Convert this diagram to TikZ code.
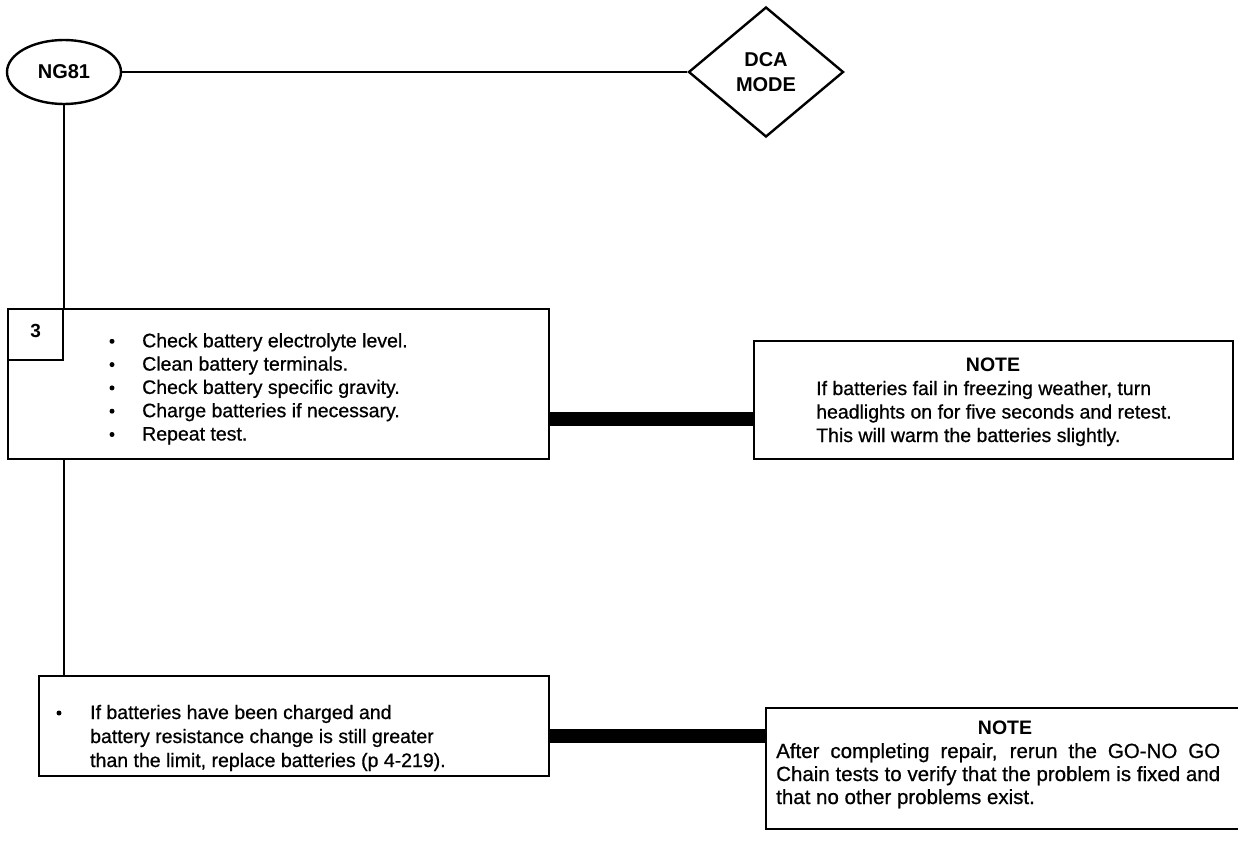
\documentclass[tikz,border=0pt]{standalone}
\usepackage{fontspec}
\setmainfont{Liberation Sans}
\newfontfamily\bodyfont{Liberation Sans}[FakeBold=0.7]
\usetikzlibrary{shapes.geometric}
\begin{document}
\begin{tikzpicture}[x=1pt,y=-1pt,
  thinline/.style={line width=2.4pt},
  bar/.style={line width=14pt},
  boxnode/.style={draw,line width=2.4pt,rectangle,inner sep=0pt,anchor=north west},
  body/.style={anchor=base west,inner sep=0pt,font=\bodyfont\fontsize{19.5}{23.5}\selectfont},
  bigbody/.style={anchor=base west,inner sep=0pt,font=\bodyfont\fontsize{20.5}{23.5}\selectfont},
  dot/.style={circle,fill,inner sep=0pt,minimum size=5pt},
  head/.style={anchor=base,inner sep=0pt,font=\fontsize{19.5}{23.5}\selectfont\bfseries}]
\useasboundingbox (0,0) rectangle (1238,859);
\fill[white] (0,0) rectangle (1238,859);

% top row
\node[draw,ellipse,line width=2.4pt,minimum width=114pt,minimum height=64pt,inner sep=0pt,
  font=\fontsize{20}{24}\selectfont\bfseries] (ng) at (64,72) {NG81};
\node[draw,diamond,line width=2.4pt,minimum width=155pt,minimum height=130pt,inner sep=0pt,
  align=center,font=\fontsize{20}{25}\selectfont\bfseries] (dca) at (766,72) {DCA\\MODE};
\draw[thinline] (ng.east) -- (dca.west);

% box 1
\node[boxnode,minimum width=541pt,minimum height=150pt] (box1) at (7,308) {};
\node[boxnode,minimum width=55pt,minimum height=51pt] (num) at (7,308) {};
\node[font=\fontsize{19}{22}\selectfont\bfseries,inner sep=0pt] (three) at (num.center) [yshift=4pt] {3};
\draw[thinline] (ng.south) -- (ng.south |- box1.north);

\foreach \i/\t in {1/Check battery electrolyte level.,2/Clean battery terminals.,3/Check battery specific gravity.,4/Charge batteries if necessary.,5/Repeat test.}{
  \node[dot] (b1\i) at (112,318+23.3*\i) {};
  \node[body] (t1\i) at (142,324+23.3*\i) {\t};
}

% note 1
\node[boxnode,minimum width=479pt,minimum height=118pt] (note1) at (753,340) {};
\node[head] (n1h) at (993,371) {NOTE};
\node[body] (n1a) at (816,395) {If batteries fail in freezing weather, turn};
\node[body] (n1b) at (816,418.5) {headlights on for five seconds and retest.};
\node[body] (n1c) at (816,442) {This will warm the batteries slightly.};

\coordinate (c1) at (548,419);
\draw[bar] (c1) -- (c1 -| note1.west);

% box 2
\node[boxnode,minimum width=510pt,minimum height=100pt] (box2) at (38,675) {};
\draw[thinline] (ng.south |- box1.south) -- (ng.south |- box2.north);
\node[dot] (b21) at (59,713) {};
\node[body] (t21) at (90,719) {If batteries have been charged and};
\node[body] (t22) at (90,743) {battery resistance change is still greater};
\node[body] (t23) at (90,767) {than the limit, replace batteries (p 4-219).};

% note 2
\node[boxnode,minimum width=480pt,minimum height=121pt] (note2) at (765,707) {};
\node[head] (n2h) at (1005,734) {NOTE};
\node[bigbody] (n2a) at (776,758) {\makebox[444pt][s]{After completing repair, rerun the GO-NO GO}};
\node[bigbody] (n2b) at (776,781) {\makebox[444pt][s]{Chain tests to verify that the problem is fixed and}};
\node[bigbody] (n2c) at (776,804) {that no other problems exist.};

\coordinate (c2) at (548,736);
\draw[bar] (c2) -- (c2 -| note2.west);
\end{tikzpicture}
\end{document}
